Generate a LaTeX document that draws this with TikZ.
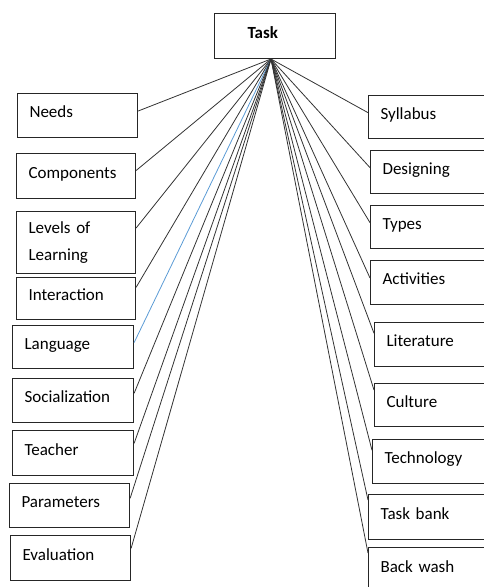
\documentclass[tikz,border=0pt]{standalone}
\usepackage{fontspec}
\setmainfont{Carlito}
\usetikzlibrary{calc}
\tikzset{
    box/.style={draw=black!85, line width=1.1pt, anchor=north west, align=left,
        inner xsep=12pt, inner ysep=0pt, text width=#1,
        text height=12pt, text depth=8pt, font=\fontsize{17}{27}\selectfont},
    box/.default=96pt,
    oneline/.style={},
    twoline/.style={text height={}, text depth={}},
    link/.style={draw=black!80, line width=0.8pt},
    bluelink/.style={draw={rgb,255:red,91;green,155;blue,213}, line width=0.8pt},
}
\begin{document}
\begin{tikzpicture}[x=1pt,y=-1pt]

    %PAGE (pixels of the reference, y downwards)
    \path[use as bounding box, clip] (0,0) rectangle (484,587);

    %TOP
    \node[box=55pt, minimum height=45pt, inner xsep=33pt,
        font=\fontsize{17}{27}\selectfont\bfseries] (task) at (214,13) {Task};
    \coordinate (apex) at (271,59);	% all lines meet here

    %LEFT COLUMN: name/text/x/y/width/height/where the line hits/node style/line style
    \foreach \nm/\txt/\x/\y/\w/\h/\f/\st/\ln in {
        needs/Needs/17/93/120/44/0.4/oneline/link,
        components/Components/16/153/119/45/0.38/oneline/link,
        levels/{Levels of\\Learning}/16/211/119/62/0.27/twoline/link,
        interaction/Interaction/16/277/119/42/0.24/oneline/link,
        language/Language/12/325/121/43/0.4/oneline/bluelink,
        socialization/Socialization/12/378/121/44/0.34/oneline/link,
        teacher/Teacher/12/430/121/45/0.29/oneline/link,
        parameters/Parameters/9/483/120/44/0.34/oneline/link,
        evaluation/Evaluation/10/535/120/45/0.29/oneline/link}{
        \pgfmathsetmacro\tw{\w-24}
        \node[box=\tw pt, minimum height=\h pt, \st] (\nm) at (\x,\y) {\txt};
        \draw[\ln] (apex) -- ($(\nm.north east)!\f!(\nm.south east)$);
    } %end of left loop

    %RIGHT COLUMN (boxes run off the page): name/text/x/y/height/where the line hits
    \foreach \nm/\txt/\x/\y/\h/\f in {
        syllabus/Syllabus/368/95/43/0.4,
        designing/Designing/370/150/43/0.4,
        types/Types/370/205/43/0.4,
        activities/Activities/370/260/44/0.4,
        literature/Literature/374/322/44/0.25,
        culture/Culture/374/383/43/0.16,
        technology/Technology/372/439/44/0.25,
        taskbank/Task bank/368/494/45/0.13,
        backwash/Back wash/368/547/45/0.13}{
        \node[box=130pt, minimum height=\h pt] (\nm) at (\x,\y) {\txt};
        \draw[link] (apex) -- ($(\nm.north west)!\f!(\nm.south west)$);
    } %end of right loop

\end{tikzpicture}
\end{document}
